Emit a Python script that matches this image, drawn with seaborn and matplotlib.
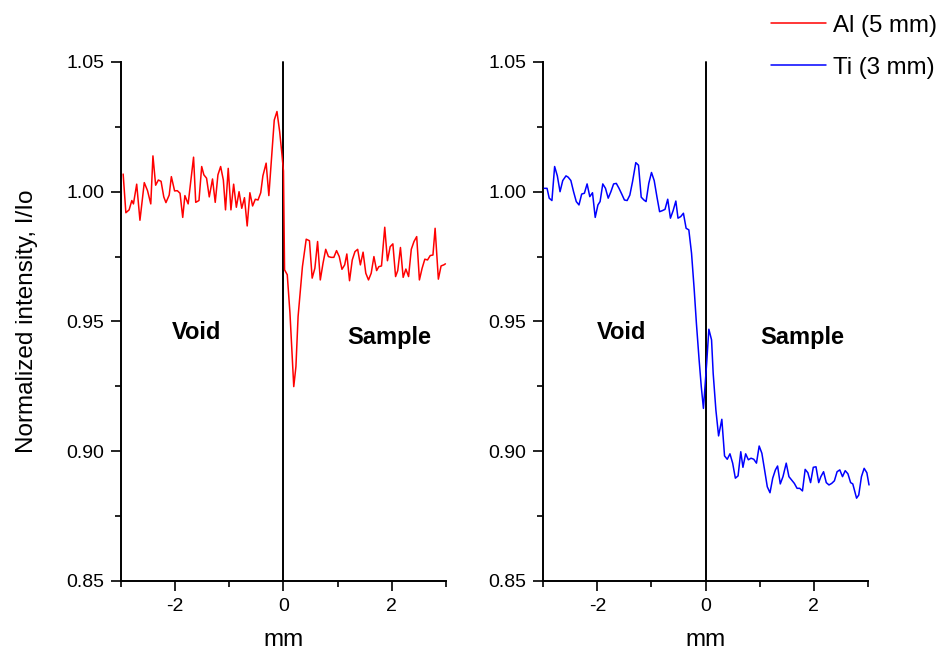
import numpy as np
import pandas as pd
import matplotlib
matplotlib.use("Agg")
import matplotlib.pyplot as plt
from matplotlib.ticker import MultipleLocator
from matplotlib.lines import Line2D
import seaborn as sns

# ---- data (position in mm, normalized intensity I/Io) ----
al_x = [-2.96, -2.91, -2.85, -2.80, -2.77, -2.71, -2.65, -2.57, -2.51, -2.45,
        -2.41, -2.36, -2.31, -2.26, -2.21, -2.17, -2.11, -2.07, -2.01, -1.96,
        -1.91, -1.86, -1.82, -1.76, -1.66, -1.62, -1.56, -1.51, -1.47, -1.42,
        -1.37, -1.31, -1.26, -1.21, -1.16, -1.11, -1.07, -1.02, -0.97, -0.92,
        -0.87, -0.82, -0.77, -0.72, -0.67, -0.62, -0.57, -0.52, -0.47, -0.42,
        -0.38, -0.32, -0.27, -0.17, -0.12, -0.07, -0.03, 0.00, 0.02, 0.07,
        0.12, 0.19, 0.23, 0.27, 0.35, 0.42, 0.48, 0.53, 0.58, 0.63,
        0.68, 0.73, 0.78, 0.83, 0.88, 0.93, 0.98, 1.03, 1.08, 1.13,
        1.17, 1.22, 1.27, 1.32, 1.37, 1.42, 1.47, 1.52, 1.57, 1.62,
        1.67, 1.72, 1.76, 1.81, 1.87, 1.92, 1.97, 2.02, 2.07, 2.11,
        2.16, 2.21, 2.26, 2.31, 2.36, 2.41, 2.46, 2.51, 2.56, 2.61,
        2.66, 2.71, 2.76, 2.80, 2.86, 2.91, 2.96, 2.99]
al_y = [1.0068, 0.9919, 0.9930, 0.9966, 0.9953, 1.0029, 0.9890, 1.0035, 1.0004, 0.9953,
        1.0138, 1.0025, 1.0045, 1.0040, 0.9980, 0.9958, 0.9987, 1.0058, 1.0003, 1.0004,
        0.9994, 0.9901, 0.9985, 0.9953, 1.0133, 0.9959, 0.9966, 1.0097, 1.0065, 1.0052,
        0.9980, 1.0049, 0.9959, 1.0065, 1.0097, 1.0045, 0.9930, 1.0090, 0.9930, 1.0029,
        0.9940, 1.0000, 0.9936, 0.9977, 0.9868, 0.9996, 0.9945, 0.9971, 0.9968, 0.9996,
        1.0061, 1.0110, 0.9985, 1.0276, 1.0309, 1.0231, 1.0148, 1.0080, 0.9699, 0.9680,
        0.9532, 0.9249, 0.9326, 0.9519, 0.9711, 0.9817, 0.9811, 0.9667, 0.9705, 0.9808,
        0.9660, 0.9724, 0.9778, 0.9750, 0.9747, 0.9747, 0.9773, 0.9750, 0.9701, 0.9718,
        0.9760, 0.9657, 0.9737, 0.9769, 0.9778, 0.9718, 0.9767, 0.9686, 0.9660, 0.9686,
        0.9750, 0.9696, 0.9711, 0.9714, 0.9863, 0.9734, 0.9788, 0.9799, 0.9673, 0.9696,
        0.9785, 0.9670, 0.9702, 0.9673, 0.9778, 0.9808, 0.9827, 0.9660, 0.9705, 0.9740,
        0.9737, 0.9754, 0.9756, 0.9859, 0.9663, 0.9714, 0.9718, 0.9722]

ti_x = [-2.98, -2.93, -2.89, -2.84, -2.79, -2.74, -2.69, -2.64, -2.58, -2.54,
        -2.49, -2.44, -2.39, -2.34, -2.29, -2.24, -2.19, -2.14, -2.09, -2.04,
        -1.99, -1.95, -1.90, -1.85, -1.80, -1.75, -1.70, -1.65, -1.60, -1.55,
        -1.50, -1.45, -1.40, -1.35, -1.29, -1.24, -1.19, -1.14, -1.10, -1.05,
        -1.00, -0.95, -0.90, -0.85, -0.80, -0.75, -0.70, -0.65, -0.60, -0.55,
        -0.51, -0.46, -0.41, -0.36, -0.31, -0.26, -0.21, -0.17, -0.12, -0.08,
        -0.04, 0.02, 0.06, 0.11, 0.14, 0.19, 0.24, 0.30, 0.35, 0.40,
        0.45, 0.50, 0.55, 0.60, 0.65, 0.69, 0.74, 0.79, 0.84, 0.89,
        0.94, 0.99, 1.04, 1.09, 1.14, 1.19, 1.24, 1.29, 1.33, 1.38,
        1.43, 1.49, 1.54, 1.59, 1.64, 1.69, 1.74, 1.79, 1.84, 1.89,
        1.94, 1.99, 2.04, 2.09, 2.13, 2.18, 2.23, 2.28, 2.33, 2.38,
        2.43, 2.48, 2.53, 2.58, 2.63, 2.68, 2.72, 2.79, 2.83, 2.88,
        2.93, 2.98, 3.02]
ti_y = [1.0013, 1.0013, 0.9975, 0.9966, 1.0097, 1.0061, 1.0000, 1.0043, 1.0061, 1.0056,
        1.0043, 1.0000, 0.9962, 0.9949, 0.9991, 0.9994, 1.0030, 0.9981, 0.9996, 0.9901,
        0.9949, 0.9962, 1.0030, 1.0013, 0.9975, 1.0000, 1.0030, 1.0032, 1.0013, 0.9991,
        0.9968, 0.9966, 0.9987, 1.0039, 1.0112, 1.0102, 0.9979, 0.9968, 0.9962, 1.0032,
        1.0074, 1.0043, 0.9981, 0.9923, 0.9927, 0.9932, 0.9971, 0.9898, 0.9927, 0.9964,
        0.9898, 0.9904, 0.9917, 0.9859, 0.9853, 0.9763, 0.9621, 0.9493, 0.9352, 0.9249,
        0.9165, 0.9340, 0.9470, 0.9429, 0.9300, 0.9159, 0.9059, 0.9123, 0.8982, 0.8969,
        0.8990, 0.8954, 0.8896, 0.8905, 0.8998, 0.8938, 0.8990, 0.8967, 0.8973, 0.8969,
        0.8954, 0.9020, 0.8992, 0.8928, 0.8863, 0.8840, 0.8896, 0.8928, 0.8943, 0.8874,
        0.8902, 0.8954, 0.8902, 0.8889, 0.8876, 0.8857, 0.8857, 0.8847, 0.8930, 0.8917,
        0.8879, 0.8938, 0.8940, 0.8879, 0.8902, 0.8921, 0.8879, 0.8870, 0.8876, 0.8886,
        0.8921, 0.8928, 0.8902, 0.8925, 0.8913, 0.8879, 0.8874, 0.8819, 0.8831, 0.8902,
        0.8934, 0.8917, 0.8870]

series_labels = ["Al (5 mm)", "Ti (3 mm)"]
series_colors = ["#ff0000", "#0000ff"]
region_labels = ["Void", "Sample"]
y_ticks = [0.85, 0.90, 0.95, 1.00, 1.05]
x_ticks = [-2, 0, 2]

# ---- style ----
sns.set_style("ticks")
plt.rcParams["font.family"] = ["Liberation Sans", "DejaVu Sans"]
plt.rcParams["text.color"] = "black"
plt.rcParams["axes.labelcolor"] = "black"
plt.rcParams["xtick.color"] = "black"
plt.rcParams["ytick.color"] = "black"

fig = plt.figure(figsize=(9.43, 6.5), dpi=100)
axL = fig.add_axes([0.1283, 0.1062, 0.3446, 0.7985])
axR = fig.add_axes([0.5761, 0.1062, 0.3443, 0.7985])

dfs = [pd.DataFrame({"x": al_x, "y": al_y}), pd.DataFrame({"x": ti_x, "y": ti_y})]
text_pos = [((-1.60, 0.9456), (1.95, 0.944)), ((-1.56, 0.9456), (1.78, 0.944))]

for ax, df, col, tp in zip([axL, axR], dfs, series_colors, text_pos):
    ax.axvline(0, color="black", lw=1.4, zorder=1)
    sns.lineplot(data=df, x="x", y="y", ax=ax, color=col, lw=1.1,
                 sort=False, estimator=None, zorder=3)
    for ln in ax.lines:
        ln.set_clip_on(False)
    ax.set_xlim(-3, 3)
    ax.set_ylim(0.85, 1.05)
    ax.set_xticks(x_ticks)
    ax.set_xticklabels(["-2", "0", "2"])
    ax.xaxis.set_minor_locator(MultipleLocator(1))
    ax.set_yticks(y_ticks)
    ax.set_yticklabels([f"{v:.2f}" for v in y_ticks])
    ax.yaxis.set_minor_locator(MultipleLocator(0.025))
    ax.tick_params(which="major", length=7.2, width=1.2, labelsize=14, pad=5,
                   direction="out", colors="black")
    ax.tick_params(which="minor", length=4, width=1.2, direction="out",
                   colors="black")
    for s in ["left", "bottom"]:
        ax.spines[s].set_linewidth(1.4)
        ax.spines[s].set_color("black")
    sns.despine(ax=ax)
    ax.set_xlabel("mm", fontsize=17.5, labelpad=10, color="black")
    ax.set_ylabel("")
    ax.text(tp[0][0], tp[0][1], region_labels[0], fontsize=17, fontweight="bold",
            ha="center", va="center", color="black")
    ax.text(tp[1][0], tp[1][1], region_labels[1], fontsize=17, fontweight="bold",
            ha="center", va="center", color="black")

axL.set_ylabel("Normalized intensity, I/Io", fontsize=17.5, labelpad=20,
               color="black")

handles = [Line2D([0], [0], color=c, lw=1.1) for c in series_colors]
fig.legend(handles, series_labels, loc="upper right",
           bbox_to_anchor=(1.012, 1.003), frameon=False, fontsize=17.3,
           handlelength=2.3, handletextpad=0.3, labelspacing=0.82,
           borderaxespad=0.3)

fig.savefig("out.png", dpi=100)
